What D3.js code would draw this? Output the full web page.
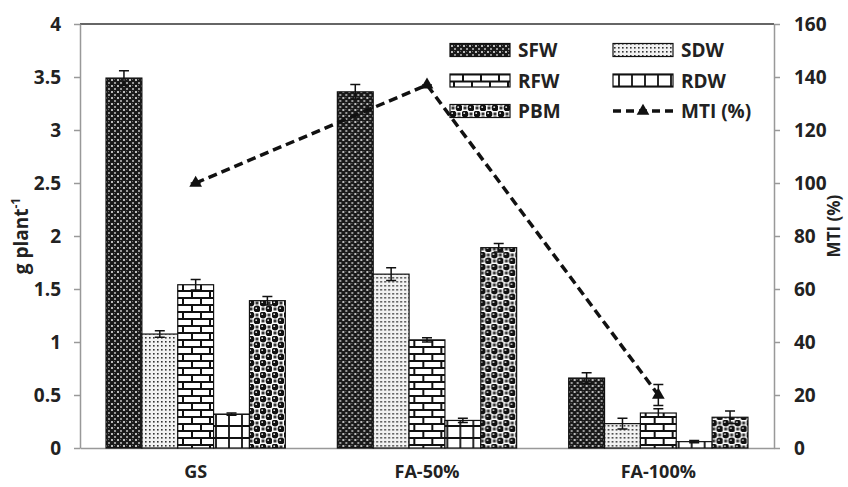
<!DOCTYPE html>
<html>
<head>
<meta charset="utf-8">
<script src="https://cdn.jsdelivr.net/npm/d3@7"></script>
<style>
  body { margin: 0; background: #fff; }
  text { font-family: "Open Sans", "DejaVu Sans", sans-serif; font-weight: bold; fill: #222; }
</style>
</head>
<body>
<div id="chart"></div>
<script>
// data
const groups = ["GS", "FA-50%", "FA-100%"];
const series = ["SFW", "SDW", "RFW", "RDW", "PBM"];
const SFW = [3.49, 3.36, 0.66];
const SDW = [1.075, 1.64, 0.23];
const RFW = [1.54, 1.02, 0.33];
const RDW = [0.32, 0.26, 0.06];
const PBM = [1.39, 1.89, 0.29];
const SFW_err = [0.07, 0.07, 0.05];
const SDW_err = [0.03, 0.06, 0.05];
const RFW_err = [0.05, 0.02, 0.04];
const RDW_err = [0.01, 0.02, 0.01];
const PBM_err = [0.04, 0.04, 0.06];
const MTI = [100, 137, 20];
const MTI_err = [0, 0, 4];
const leftTicks = [0, 0.5, 1, 1.5, 2, 2.5, 3, 3.5, 4];
const rightTicks = [0, 20, 40, 60, 80, 100, 120, 140, 160];

const values = {SFW, SDW, RFW, RDW, PBM};
const errors = {SFW: SFW_err, SDW: SDW_err, RFW: RFW_err, RDW: RDW_err, PBM: PBM_err};

const W = 848, H = 487;
const margin = {top: 24, right: 74, bottom: 39, left: 80};
const width = W - margin.left - margin.right;
const height = H - margin.top - margin.bottom;

const svg = d3.select("#chart").append("svg")
    .attr("width", W).attr("height", H);

// patterns
const defs = svg.append("defs");

// SFW: dark cross hatch
let p = defs.append("pattern").attr("id", "pSFW").attr("patternUnits", "userSpaceOnUse")
    .attr("width", 6).attr("height", 6);
p.append("rect").attr("width", 6).attr("height", 6).attr("fill", "#1a1a1a");
p.append("rect").attr("x", 1).attr("y", 1).attr("width", 2).attr("height", 2).attr("fill", "#bbb");
p.append("rect").attr("x", 4).attr("y", 4).attr("width", 2).attr("height", 2).attr("fill", "#999");
p.append("rect").attr("x", 4).attr("y", 1).attr("width", 1).attr("height", 1).attr("fill", "#666");

// SDW: fine dots
p = defs.append("pattern").attr("id", "pSDW").attr("patternUnits", "userSpaceOnUse")
    .attr("width", 4).attr("height", 4);
p.append("rect").attr("width", 4).attr("height", 4).attr("fill", "#f2f2f2");
p.append("rect").attr("x", 1).attr("y", 1).attr("width", 1.6).attr("height", 1.6).attr("fill", "#333");

// RFW: bricks
p = defs.append("pattern").attr("id", "pRFW").attr("patternUnits", "userSpaceOnUse")
    .attr("width", 18).attr("height", 14);
p.append("rect").attr("width", 18).attr("height", 14).attr("fill", "#fff");
p.append("path")
    .attr("d", "M0,1 H18 M0,8 H18 M4,1 V8 M13,8 V14")
    .attr("stroke", "#111").attr("stroke-width", 2).attr("fill", "none");

// RDW: grid
p = defs.append("pattern").attr("id", "pRDW").attr("patternUnits", "userSpaceOnUse")
    .attr("width", 13).attr("height", 12);
p.append("rect").attr("width", 13).attr("height", 12).attr("fill", "#fff");
p.append("path")
    .attr("d", "M0,6 H13 M6,0 V12")
    .attr("stroke", "#111").attr("stroke-width", 1.8).attr("fill", "none");

// PBM: white checker with black spheres
p = defs.append("pattern").attr("id", "pPBM").attr("patternUnits", "userSpaceOnUse")
    .attr("width", 12).attr("height", 12);
p.append("rect").attr("width", 12).attr("height", 12).attr("fill", "#fff");
p.append("circle").attr("cx", 3).attr("cy", 3).attr("r", 3.4).attr("fill", "#111");
p.append("circle").attr("cx", 9).attr("cy", 9).attr("r", 3.4).attr("fill", "#111");
p.append("rect").attr("x", 7.5).attr("y", 1.5).attr("width", 3).attr("height", 3).attr("fill", "#333");
p.append("rect").attr("x", 1.5).attr("y", 7.5).attr("width", 3).attr("height", 3).attr("fill", "#333");
p.append("circle").attr("cx", 2.2).attr("cy", 2.2).attr("r", 0.9).attr("fill", "#ddd");
p.append("circle").attr("cx", 8.2).attr("cy", 8.2).attr("r", 0.9).attr("fill", "#ddd");

const g = svg.append("g").attr("transform", `translate(${margin.left},${margin.top})`);

// scales
const x0 = d3.scaleBand().domain(groups).range([0, width]);
const inner = x0.bandwidth() * 0.775;
const x1 = d3.scaleBand().domain(series)
    .range([(x0.bandwidth() - inner) / 2, (x0.bandwidth() + inner) / 2]);
const y = d3.scaleLinear().domain([0, 4]).range([height, 0]);
const y2 = d3.scaleLinear().domain([0, 160]).range([height, 0]);

// top border
g.append("line").attr("x1", 0).attr("x2", width).attr("y1", 0).attr("y2", 0)
    .attr("stroke", "#333").attr("stroke-width", 1.5);

// axes
const yAxis = g.append("g").call(d3.axisLeft(y).tickValues(leftTicks).tickSize(6).tickSizeOuter(0).tickPadding(13)
    .tickFormat(d => d));
const y2Axis = g.append("g").attr("transform", `translate(${width},0)`)
    .call(d3.axisRight(y2).tickValues(rightTicks).tickSize(6).tickSizeOuter(0).tickPadding(14));
[yAxis, y2Axis].forEach(a => {
    a.selectAll("path, line").attr("stroke", "#999").attr("stroke-width", 1.5);
    a.selectAll("text").attr("font-size", 19).attr("fill", "#222")
        .attr("font-family", "'Open Sans', sans-serif").attr("font-weight", "bold");
});
const xAxis = g.append("g").attr("transform", `translate(0,${height})`)
    .call(d3.axisBottom(x0).tickSize(0).tickPadding(17));
xAxis.select("path").attr("stroke", "#999").attr("stroke-width", 1.5);
xAxis.selectAll("text").attr("font-size", 18).attr("fill", "#222")
    .attr("font-family", "'Open Sans', sans-serif").attr("font-weight", "bold");

// bars
const grp = g.selectAll(".grp").data(groups).enter().append("g")
    .attr("transform", d => `translate(${x0(d)},0)`);
series.forEach(s => {
    grp.append("rect")
        .attr("x", x1(s)).attr("width", x1.bandwidth())
        .attr("y", (d, i) => y(values[s][i]))
        .attr("height", (d, i) => height - y(values[s][i]))
        .attr("fill", `url(#p${s})`)
        .attr("stroke", "#111").attr("stroke-width", 1.2);
    grp.append("path")
        .attr("d", (d, i) => {
            const cx = x1(s) + x1.bandwidth() / 2;
            const v = values[s][i], e = errors[s][i];
            const t = y(v + e), b = y(v - e);
            return `M${cx - 5},${t} H${cx + 5} M${cx},${t} V${b} M${cx - 5},${b} H${cx + 5}`;
        })
        .attr("stroke", "#111").attr("stroke-width", 1.5).attr("fill", "none");
});

// MTI line
const cx = d => x0(d) + x0.bandwidth() / 2;
g.append("path").datum(groups)
    .attr("d", d3.line().x(cx).y((d, i) => y2(MTI[i])))
    .attr("fill", "none").attr("stroke", "#111").attr("stroke-width", 3.5)
    .attr("stroke-dasharray", "9,5");
g.selectAll(".mtiErr").data(groups).enter().append("path")
    .attr("d", (d, i) => {
        const t = y2(MTI[i] + MTI_err[i]), b = y2(MTI[i] - MTI_err[i]);
        return `M${cx(d) - 5},${t} H${cx(d) + 5} M${cx(d)},${t} V${b} M${cx(d) - 5},${b} H${cx(d) + 5}`;
    })
    .attr("stroke", "#111").attr("stroke-width", 1.5).attr("fill", "none");
g.selectAll(".tri").data(groups).enter().append("path")
    .attr("d", d3.symbol(d3.symbolTriangle, 70))
    .attr("transform", (d, i) => `translate(${cx(d)},${y2(MTI[i])})`)
    .attr("fill", "#111");

// axis titles
const yt = svg.append("text").attr("transform", `translate(28,${margin.top + height / 2}) rotate(-90)`)
    .attr("text-anchor", "middle").attr("font-size", 19);
yt.append("tspan").text("g plant");
yt.append("tspan").text("-1").attr("font-size", 12).attr("dy", -8);
svg.append("text").attr("transform", `translate(840,${margin.top + height / 2 - 10}) rotate(-90)`)
    .attr("text-anchor", "middle").attr("font-size", 17).text("MTI (%)");

// legend
const legendItems = [
    {key: "SFW", col: 0, row: 0}, {key: "SDW", col: 1, row: 0},
    {key: "RFW", col: 0, row: 1}, {key: "RDW", col: 1, row: 1},
    {key: "PBM", col: 0, row: 2}, {key: "MTI (%)", col: 1, row: 2}
];
const lg = svg.append("g").attr("transform", "translate(450,50)");
const li = lg.selectAll(".li").data(legendItems).enter().append("g")
    .attr("transform", d => `translate(${d.col * 163},${d.row * 30.5})`);
li.filter(d => d.key !== "MTI (%)").append("rect")
    .attr("x", 0).attr("y", -6.5).attr("width", 60).attr("height", 13)
    .attr("fill", d => `url(#p${d.key})`).attr("stroke", "#111").attr("stroke-width", 1.2);
const mt = li.filter(d => d.key === "MTI (%)");
mt.append("line").attr("x1", 0).attr("x2", 60).attr("y1", 0).attr("y2", 0)
    .attr("stroke", "#111").attr("stroke-width", 3.5).attr("stroke-dasharray", "8,5");
mt.append("path").attr("d", d3.symbol(d3.symbolTriangle, 70)).attr("transform", "translate(30,0)")
    .attr("fill", "#111");
li.append("text").attr("x", 68).attr("y", 7).attr("font-size", 19).text(d => d.key);
</script>
</body>
</html>
